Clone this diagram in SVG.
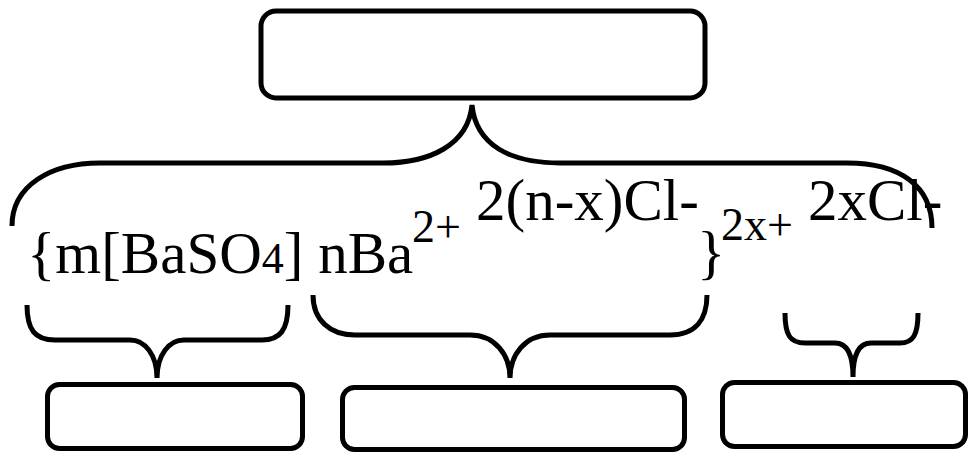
<svg xmlns="http://www.w3.org/2000/svg" width="969" height="453" viewBox="0 0 969 453">
<style>
.box{fill:#fff;stroke:#000;stroke-width:5}
.br{fill:none;stroke:#000;stroke-width:5;stroke-linecap:butt}
text{font-family:"Liberation Serif","Times New Roman",serif;fill:#000}
.m{font-size:59px}
.s{font-size:46px}
</style>
<rect width="969" height="453" fill="#fff"/>
<g id="connectors">
<path class="br" d="M12,226 C12,186 50,163 100,163 L383,163 C430,163 468,145 472,105 C476,145 510,163 560,163 L847,163 C900,163 932,186 932,228"/>
<path class="br" d="M27,305 C27,330 35,340 55,340 L130,340 C145,340 157,355 157,378 C157,355 169,340 184,340 L262,340 C280,340 288,330 288,305"/>
<path class="br" d="M313,295 C313,320 330,335 355,335 L470,335 C495,335 510,355 510,378 C510,355 525,335 550,335 L670,335 C695,335 707,320 707,295"/>
<path class="br" d="M785,313 C785,335 790,343 805,343 L835,343 C848,343 853,355 853,377 C853,355 858,343 871,343 L900,343 C913,343 918,335 918,313"/>
</g>
<g id="top"><rect class="box" x="261" y="11" width="444" height="87" rx="15"/></g>
<g id="bl"><rect class="box" x="47.5" y="384.5" width="255" height="64" rx="12"/></g>
<g id="bm"><rect class="box" x="342.5" y="387.5" width="342" height="62" rx="12"/></g>
<g id="br"><rect class="box" x="722.5" y="382.5" width="243" height="64" rx="12"/></g>
<g id="labels">
<text class="m" x="27" y="273">{m[BaSO<tspan font-size="44">4</tspan>] nBa</text>
<text class="s" x="412" y="242">2+</text>
<text class="m" x="476" y="220">2(n-x)Cl-</text>
<text class="m" x="697" y="272">}</text>
<text class="s" x="721" y="240">2x+</text>
<text class="m" x="808" y="220">2xCl-</text>
</g>
</svg>
